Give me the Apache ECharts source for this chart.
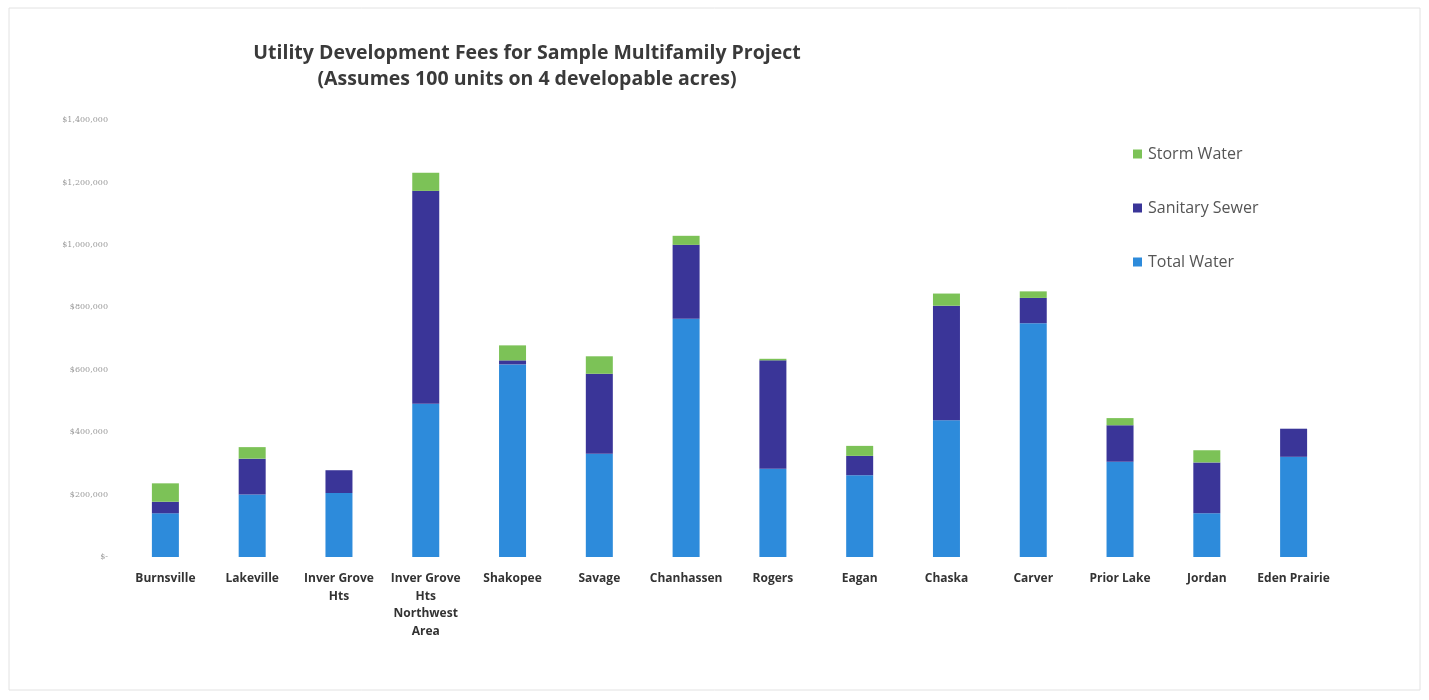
<!DOCTYPE html>
<html>
<head>
<meta charset="utf-8">
<script src="https://cdn.jsdelivr.net/npm/echarts@6/dist/echarts.min.js"></script>
<style>
html,body{margin:0;padding:0;background:#fff;}
#chart{width:1429px;height:700px;}
</style>
</head>
<body>
<div id="chart"></div>
<script>
const categories = ['Burnsville','Lakeville','Inver Grove\nHts','Inver Grove\nHts\nNorthwest\nArea','Shakopee','Savage','Chanhassen','Rogers','Eagan','Chaska','Carver','Prior Lake','Jordan','Eden Prairie'];
const totalWater    = [140000, 200000, 205000, 491000, 617000, 331000, 763000, 283000, 262000, 438000, 749000, 305000, 140000, 321000];
const sanitarySewer = [ 37000, 115000,  73000, 682000,  13000, 256000, 237000, 347000,  62000, 367000,  81000, 117000, 163000,  90000];
const stormWater    = [ 59000,  37000,      0,  58000,  48000,  56000,  29000,   5000,  32000,  39000,  21000,  23000,  39000,      0];
const yTicks = [0, 200000, 400000, 600000, 800000, 1000000, 1200000, 1400000];

const chart = echarts.init(document.getElementById('chart'));
const fmt = v => v === 0 ? '$-' : '$' + v.toLocaleString('en-US');
chart.setOption({
  animation: false,
  backgroundColor: '#fff',
  title: {
    text: 'Utility Development Fees for Sample Multifamily Project\n(Assumes 100 units on 4 developable acres)',
    left: 522, top: 35, textAlign: 'center',
    textStyle: { fontFamily: 'Open Sans', fontWeight: 'bold', fontSize: 19.5, color: '#3a3a3a', lineHeight: 26 }
  },
  legend: {
    orient: 'vertical', left: 1128, top: 140, itemGap: 36,
    itemWidth: 9, itemHeight: 9, icon: 'rect',
    data: ['Storm Water', 'Sanitary Sewer', 'Total Water'],
    textStyle: { fontFamily: 'Open Sans', fontSize: 16, color: '#555', lineHeight: 18, padding: [0,0,0,1] }
  },
  grid: { left: 122, right: 92, top: 120, bottom: 143, containLabel: false },
  xAxis: {
    type: 'category', data: categories,
    axisLine: { show: false }, axisTick: { show: false },
    axisLabel: { interval: 0, margin: 13, fontFamily: 'Open Sans', fontWeight: 'bold', fontSize: 12, color: '#333', lineHeight: 17.5 }
  },
  yAxis: {
    type: 'value', min: 0, max: 1400000, interval: 200000,
    splitLine: { show: false }, axisLine: { show: false }, axisTick: { show: false },
    axisLabel: { margin: 14, fontFamily: 'DejaVu Serif', fontSize: 8, color: '#999', formatter: fmt }
  },
  series: [
    { name: 'Total Water', type: 'bar', stack: 'a', data: totalWater, barWidth: 27, itemStyle: { color: '#2d8bdb' } },
    { name: 'Sanitary Sewer', type: 'bar', stack: 'a', data: sanitarySewer, barWidth: 27, itemStyle: { color: '#3a3598' } },
    { name: 'Storm Water', type: 'bar', stack: 'a', data: stormWater, barWidth: 27, itemStyle: { color: '#7cc257' } }
  ],
  graphic: [{
    type: 'rect', silent: true, z: -1,
    shape: { x: 9, y: 8, width: 1411, height: 682 },
    style: { fill: 'none', stroke: '#e2e2e2', lineWidth: 1 }
  }]
});
</script>
</body>
</html>
